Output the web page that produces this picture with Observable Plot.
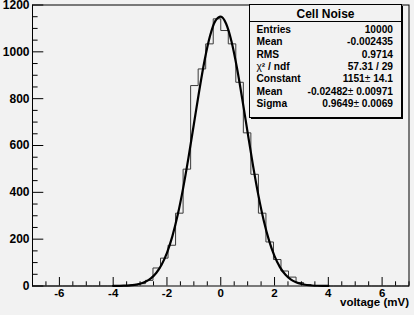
<!DOCTYPE html>
<html>
<head>
<meta charset="utf-8">
<script src="https://cdn.jsdelivr.net/npm/d3@7"></script>
<script src="https://cdn.jsdelivr.net/npm/@observablehq/plot@0.6"></script>
<style>
  html, body { margin: 0; padding: 0; background: #f2f2f2; }
  #chart svg { display: block; }
</style>
</head>
<body>
<div id="chart"></div>
<script>
// ---- Data ----
const xRange = [-7, 7];
const yRange = [0, 1200];
const nBins = 50;
const binCounts = [
  0, 0, 0, 0, 0, 0, 0, 0, 0, 0,
  0, 0, 1, 4, 10, 24, 77, 119, 174, 311,
  499, 856, 927, 1034, 1141, 1091, 1034, 870, 654, 477,
  311, 188, 113, 64, 38, 15, 6, 2, 1, 0,
  0, 0, 0, 0, 0, 0, 0, 0, 0, 0
];
const fitX = [-4.0, -3.8, -3.6, -3.4, -3.2, -3.0, -2.8, -2.6, -2.4, -2.2, -2.0, -1.8, -1.6, -1.4, -1.2, -1.0, -0.8, -0.6, -0.4, -0.2,
  0.0, 0.2, 0.4, 0.6, 0.8, 1.0, 1.2, 1.4, 1.6, 1.8, 2.0, 2.2, 2.4, 2.6, 2.8, 3.0, 3.2, 3.4, 3.6, 3.8, 4.0];
const fitY = [0.2, 0.6, 1.2, 2.5, 5.1, 9.9, 18.4, 32.7, 55.7, 90.8, 141.7, 212.0, 303.9, 417.1, 548.5, 690.9, 833.7, 963.8, 1067.3, 1132.3,
  1150.6, 1120.1, 1044.6, 933.2, 798.7, 654.8, 514.3, 386.9, 278.8, 192.5, 127.3, 80.6, 49.0, 28.5, 15.9, 8.5, 4.3, 2.1, 1.0, 0.45, 0.2];
const xMajorTicks = [-6, -4, -2, 0, 2, 4, 6];
const xMinorTicks = [-7, -6.5, -5.5, -5, -4.5, -3.5, -3, -2.5, -1.5, -1, -0.5, 0.5, 1, 1.5, 2.5, 3, 3.5, 4.5, 5, 5.5, 6.5, 7];
const yMajorTicks = [0, 200, 400, 600, 800, 1000, 1200];
const yMinorTicks = [50, 100, 150, 250, 300, 350, 450, 500, 550, 650, 700, 750, 850, 900, 950, 1050, 1100, 1150];
const xTitle = "voltage (mV)";
const statsTitle = "Cell Noise";
const statLabels = ["Entries", "Mean", "RMS", "χ² / ndf", "Constant", "Mean", "Sigma"];
const statValues = ["10000", "-0.002435", "0.9714", "57.31 / 29", "1151± 14.1", "-0.02482± 0.00971", "0.9649± 0.0069"];

// ---- Build histogram outline ----
const binWidth = (xRange[1] - xRange[0]) / nBins;
const histPts = binCounts.map((c, i) => ({x: xRange[0] + i * binWidth, y: c}));
histPts.push({x: xRange[1], y: binCounts[nBins - 1]});
const fitPts = fitX.map((x, i) => ({x, y: fitY[i]}));

const W = 414, H = 315;
const mL = 32, mR = 5.5, mT = 4.5, mB = 29.5;
const frameW = W - mL - mR, frameH = H - mT - mB;
const font = "'Liberation Sans', Arial, Helvetica, sans-serif";

const chart = Plot.plot({
  width: W, height: H,
  marginLeft: mL, marginRight: mR, marginTop: mT, marginBottom: mB,
  x: {domain: xRange},
  y: {domain: yRange},
  style: {background: "#f2f2f2", fontFamily: font, fontWeight: "bold", color: "#000", overflow: "hidden"},
  marks: [
    Plot.line(histPts, {x: "x", y: "y", curve: "step-after", stroke: "#3a3a3a", strokeWidth: 1}),
    Plot.line(fitPts, {x: "x", y: "y", curve: "monotone-x", stroke: "#000", strokeWidth: 2.2}),
    Plot.tickX(xMajorTicks, {x: d => d, insetTop: frameH - 8.5, stroke: "#000"}),
    Plot.tickX(xMinorTicks, {x: d => d, insetTop: frameH - 4.2, stroke: "#000"}),
    Plot.tickY(yMajorTicks, {y: d => d, insetRight: frameW - 11.3, stroke: "#000"}),
    Plot.tickY(yMinorTicks, {y: d => d, insetRight: frameW - 5.6, stroke: "#000"}),
    Plot.axisX({ticks: xMajorTicks, tickSize: 0, tickPadding: 3, fontSize: 11.5, tickFormat: d => String(d), label: null}),
    Plot.axisY({ticks: yMajorTicks, tickSize: 0, tickPadding: 3, fontSize: 12, tickFormat: d => String(d), label: null}),
    Plot.frame({stroke: "#000", strokeWidth: 1}),
    Plot.text([xTitle], {frameAnchor: "bottom-right", dy: 20, textAnchor: "end", fontSize: 11.5, fontWeight: "bold", text: d => d})
  ]
});
document.getElementById("chart").appendChild(chart);

// ---- Stats box ----
const svg = d3.select(chart);
const bx0 = 249.5, by0 = 4.5, bx1 = 401.5, by1 = 117.5;
const g = svg.append("g").attr("font-family", font).attr("font-weight", "bold").attr("fill", "#000");
g.append("rect").attr("x", bx0 + 1.5).attr("y", by0 + 1.5).attr("width", bx1 - bx0).attr("height", by1 - by0).attr("fill", "#000");
g.append("rect").attr("x", bx0).attr("y", by0).attr("width", bx1 - bx0).attr("height", by1 - by0)
  .attr("fill", "#f2f2f2").attr("stroke", "#000").attr("stroke-width", 1);
g.append("line").attr("x1", bx0).attr("x2", bx1).attr("y1", 21.5).attr("y2", 21.5).attr("stroke", "#000");
g.append("text").attr("x", (bx0 + bx1) / 2).attr("y", 13.3).attr("dy", "0.36em")
  .attr("text-anchor", "middle").attr("font-size", 12).text(statsTitle);
statLabels.forEach((lab, i) => {
  const y = 29.4 + i * 12.33;
  const t = g.append("text").attr("x", 256.5).attr("y", y).attr("dy", "0.36em")
    .attr("font-size", 10.2).attr("text-anchor", "start");
  if (lab.startsWith("χ")) {
    t.append("tspan").attr("font-weight", "normal").text("χ");
    t.append("tspan").text(lab.slice(1));
  } else {
    t.text(lab);
  }
  const v = g.append("text").attr("x", 393).attr("y", y).attr("dy", "0.36em")
    .attr("font-size", 10.2).attr("text-anchor", "end");
  const parts = statValues[i].split("±");
  if (parts.length === 2) {
    v.append("tspan").text(parts[0]);
    v.append("tspan").attr("font-weight", "normal").text("±");
    v.append("tspan").text(parts[1]);
  } else {
    v.text(statValues[i]);
  }
});
</script>
</body>
</html>
